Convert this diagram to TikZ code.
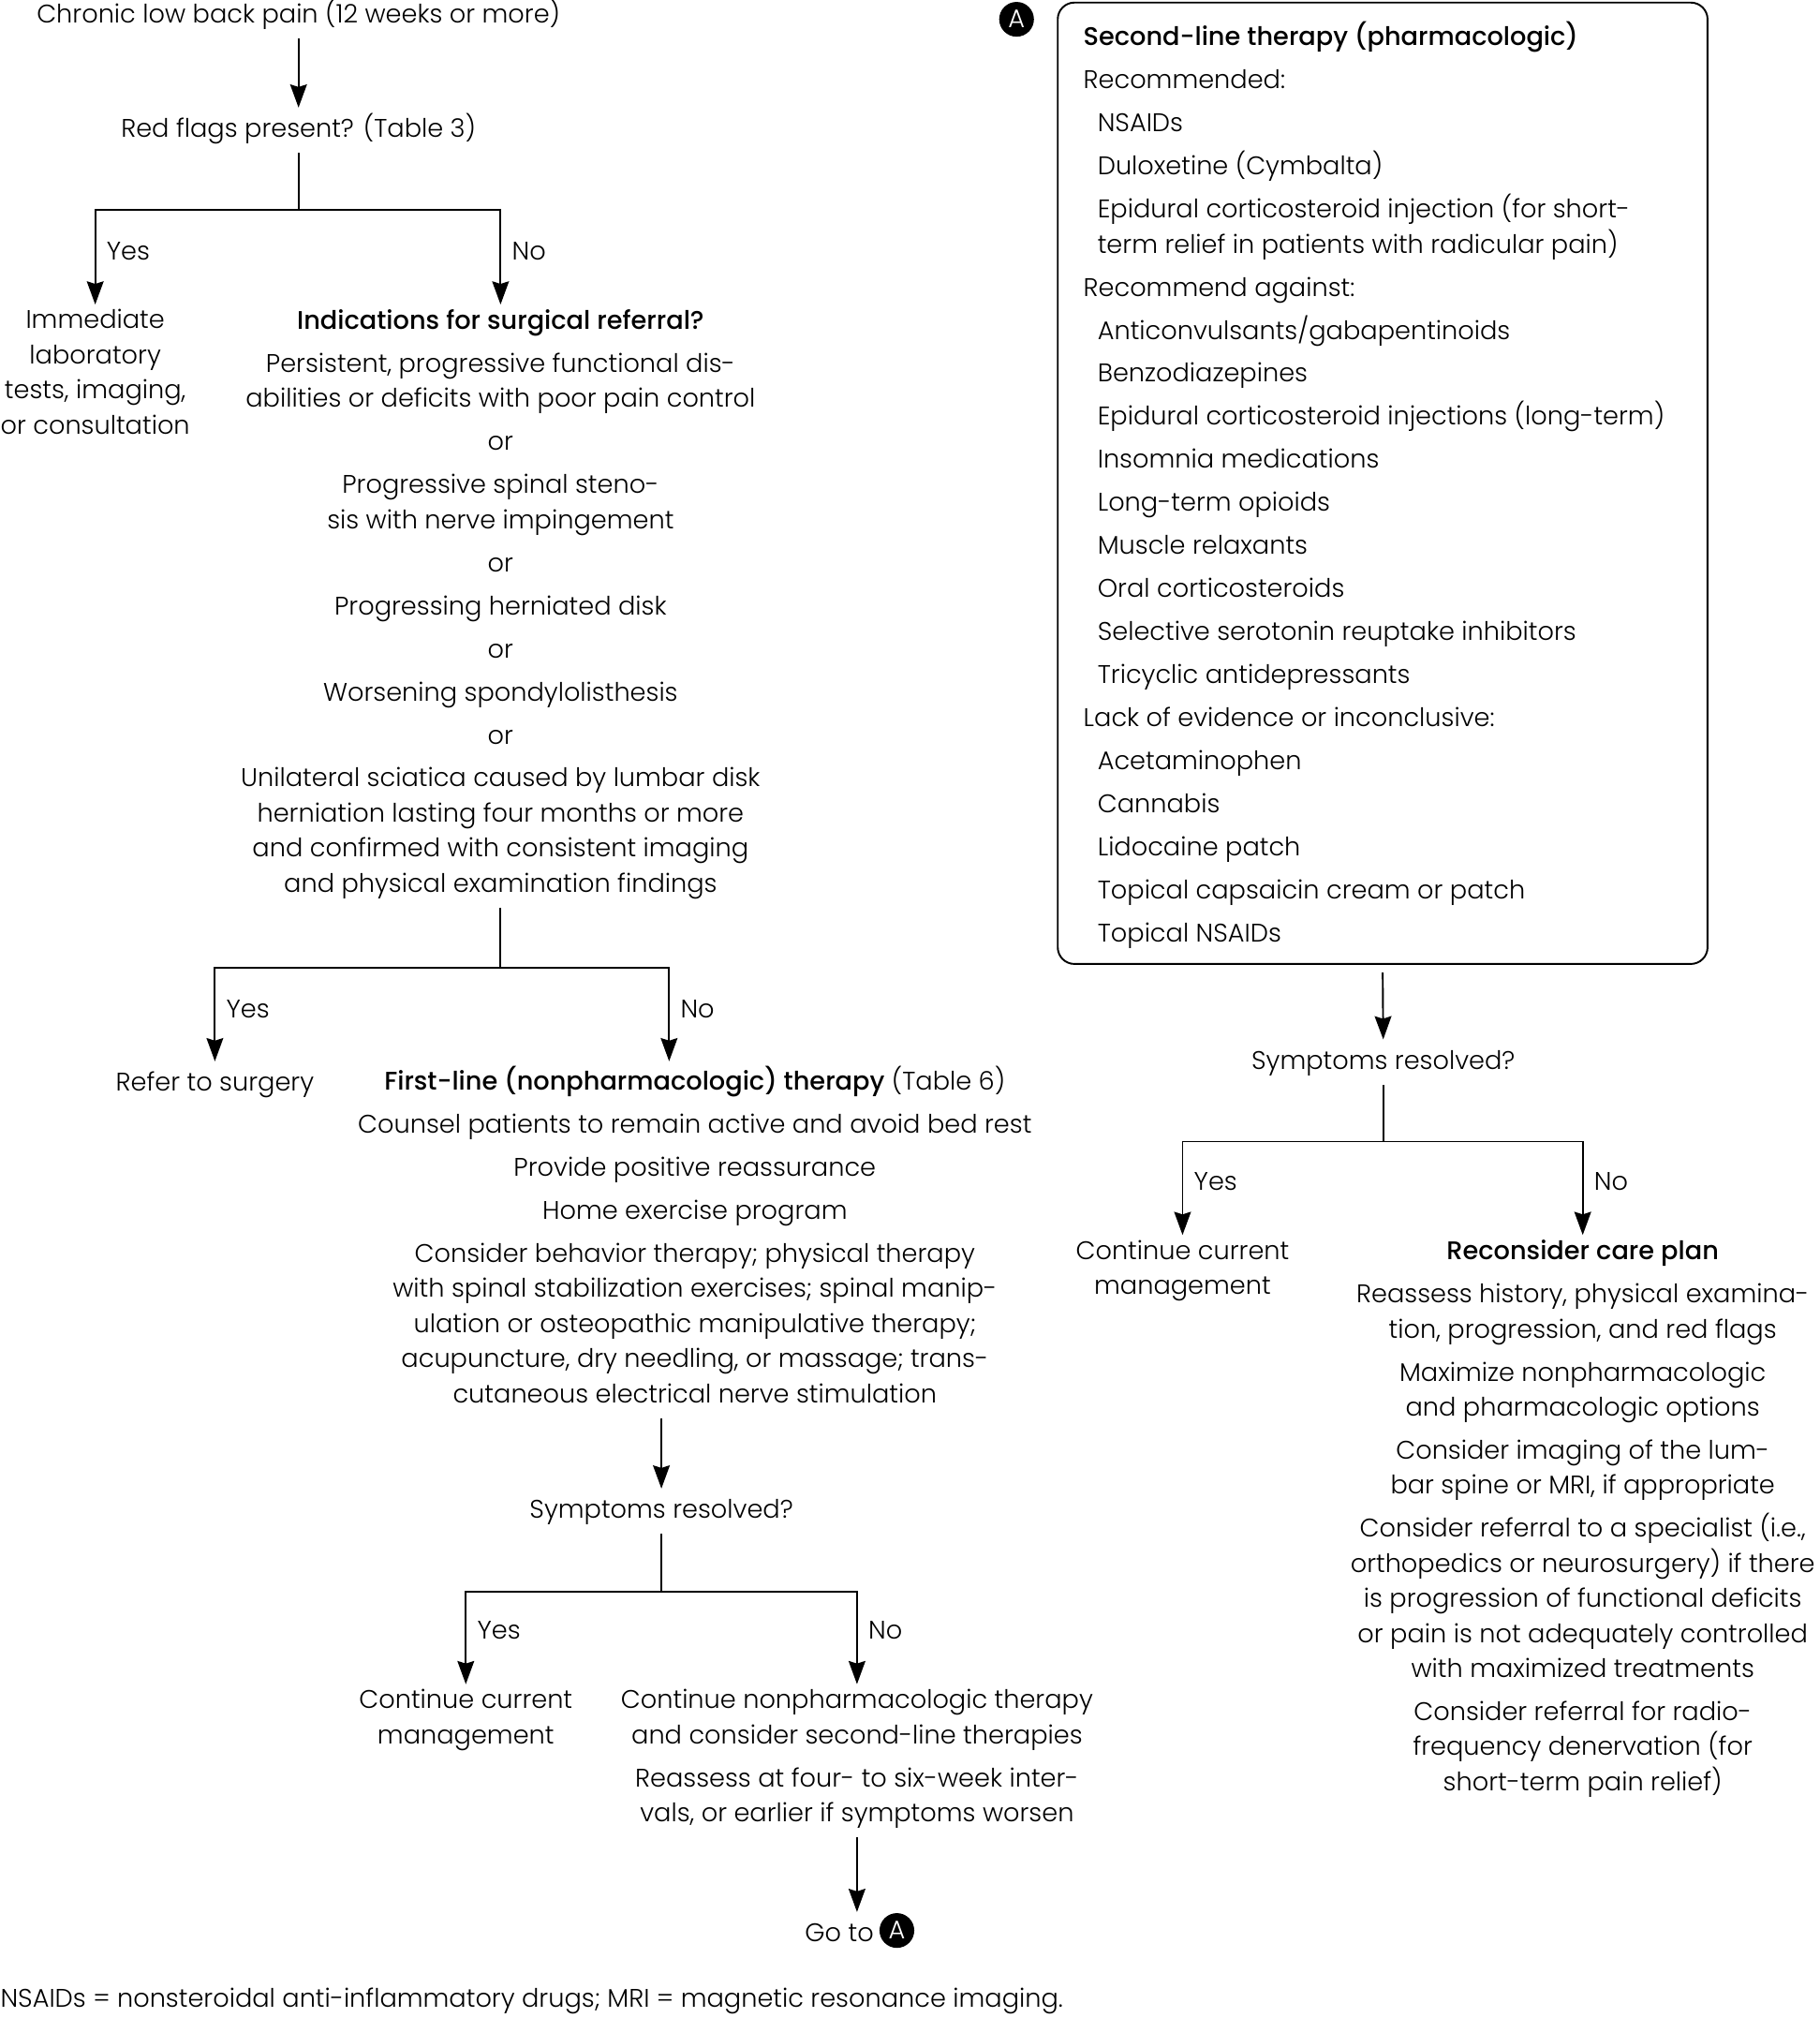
\documentclass[tikz,border=0pt]{standalone}
\usepackage{fontspec}
\setmainfont{Poppins}[UprightFont={* Light}, BoldFont={* Medium}]
\usetikzlibrary{arrows.meta}
\newcommand\fs{\fontsize{9.9pt}{13.625pt}\selectfont}
\begin{document}
\begin{tikzpicture}[x=0.5pt,y=-0.5pt,
  txt/.style={inner sep=0pt, outer sep=0pt, align=center, anchor=north, yshift=5.2pt, font=\fs,
    execute at begin node=\strut, execute at end node=\strut},
  ltxt/.style={txt, align=left, anchor=north west},
  lab/.style={inner sep=0pt, anchor=west, font=\fs},
  ln/.style={line width=0.7pt},
  arr/.style={ln, -{Stealth[length=9pt,width=6.5pt,inset=1pt]}, shorten >=2pt},
  circA/.style={circle, fill=black, text=white, inner sep=0pt, minimum size=13.5pt, font=\fs}
]
\useasboundingbox (0,0) rectangle (1414,1568);

% ---------- left column ----------
\node[txt] (chronic) at (232,9) {Chronic low back pain (12 weeks or more)};
\node[txt] (red) at (232,98) {Red flags present? (Table 3)};
\node[txt] (imm) at (74,251) {Immediate\\laboratory\\tests, imaging,\\or consultation};
\node[txt] (ind) at (389,251) {\textbf{Indications for surgical referral?}\\[3.1pt]
  Persistent, progressive functional dis-\\abilities or deficits with poor pain control\\[3.1pt]
  or\\[3.1pt]
  Progressive spinal steno-\\sis with nerve impingement\\[3.1pt]
  or\\[3.1pt]
  Progressing herniated disk\\[3.1pt]
  or\\[3.1pt]
  Worsening spondylolisthesis\\[3.1pt]
  or\\[3.1pt]
  Unilateral sciatica caused by lumbar disk\\herniation lasting four months or more\\and confirmed with consistent imaging\\and physical examination findings};
\node[txt] (refer) at (167,839) {Refer to surgery};
\node[txt] (first) at (540,839) {\textbf{First-line (nonpharmacologic) therapy} (Table 6)\\[3.1pt]
  Counsel patients to remain active and avoid bed rest\\[3.1pt]
  Provide positive reassurance\\[3.1pt]
  Home exercise program\\[3.1pt]
  Consider behavior therapy; physical therapy\\with spinal stabilization exercises; spinal manip-\\ulation or osteopathic manipulative therapy;\\acupuncture, dry needling, or massage; trans-\\cutaneous electrical nerve stimulation};
\node[txt] (sym1) at (514,1171) {Symptoms resolved?};
\node[txt] (cont1) at (362,1323) {Continue current\\management};
\node[txt] (cont2) at (666,1323) {Continue nonpharmacologic therapy\\and consider second-line therapies\\[3.1pt]
  Reassess at four- to six-week inter-\\vals, or earlier if symptoms worsen};
\node[circA] (gA) at (697,1500) {A};
\node[txt, anchor=north east] (goto) at (679,1500) {Go to};
\node[lab] (foot) at (0,1555) {NSAIDs = nonsteroidal anti-inflammatory drugs; MRI = magnetic resonance imaging.};

\coordinate (x520) at (520,0);
\coordinate (x514) at (514,0);
\coordinate (j1) at (232,163);
\coordinate (j2) at (389,752);
\coordinate (j3) at (514,1237);

\draw[arr, shorten <=2pt] (chronic.south) -- (red.north);
\draw[ln, shorten <=2pt] (red.south) -- (j1);
\draw[arr] (j1) -| (imm.north);
\draw[arr] (j1) -| (ind.north);
\node[lab] (y1) at (82.5,195) {Yes};
\node[lab] (n1) at (397.5,195) {No};

\draw[ln, shorten <=2pt] (ind.south) -- (j2);
\draw[arr] (j2) -| (refer.north);
\draw[arr] (j2) -| (x520 |- first.north);
\node[lab] (y2) at (175.5,784) {Yes};
\node[lab] (n2) at (528.5,784) {No};

\draw[arr, shorten <=2pt] (x514 |- first.south) -- (sym1.north);
\draw[ln, shorten <=2pt] (sym1.south) -- (j3);
\draw[arr] (j3) -| (cont1.north);
\draw[arr] (j3) -| (cont2.north);
\node[lab] (y3) at (370.5,1267) {Yes};
\node[lab] (n3) at (674.5,1267) {No};
\draw[arr, shorten <=2pt] (cont2.south) -- (cont2.south |- goto.north);

% ---------- right column ----------
\node[circA] (A1) at (790,15) {A};
\node[draw, ln, rounded corners=6.5pt, minimum width=252.5pt, minimum height=373.5pt, inner sep=0pt] (box) at (1074.5,375.5) {};
\node[ltxt] (boxtxt) at (842,27.5) {\textbf{Second-line therapy (pharmacologic)}\\[3.1pt]
  Recommended:\\[3.1pt]
  \hspace*{5.5pt}NSAIDs\\[3.1pt]
  \hspace*{5.5pt}Duloxetine (Cymbalta)\\[3.1pt]
  \hspace*{5.5pt}Epidural corticosteroid injection (for short-\\
  \hspace*{5.5pt}term relief in patients with radicular pain)\\[3.1pt]
  Recommend against:\\[3.1pt]
  \hspace*{5.5pt}Anticonvulsants/gabapentinoids\\[3.1pt]
  \hspace*{5.5pt}Benzodiazepines\\[3.1pt]
  \hspace*{5.5pt}Epidural corticosteroid injections (long-term)\\[3.1pt]
  \hspace*{5.5pt}Insomnia medications\\[3.1pt]
  \hspace*{5.5pt}Long-term opioids\\[3.1pt]
  \hspace*{5.5pt}Muscle relaxants\\[3.1pt]
  \hspace*{5.5pt}Oral corticosteroids\\[3.1pt]
  \hspace*{5.5pt}Selective serotonin reuptake inhibitors\\[3.1pt]
  \hspace*{5.5pt}Tricyclic antidepressants\\[3.1pt]
  Lack of evidence or inconclusive:\\[3.1pt]
  \hspace*{5.5pt}Acetaminophen\\[3.1pt]
  \hspace*{5.5pt}Cannabis\\[3.1pt]
  \hspace*{5.5pt}Lidocaine patch\\[3.1pt]
  \hspace*{5.5pt}Topical capsaicin cream or patch\\[3.1pt]
  \hspace*{5.5pt}Topical NSAIDs};

\node[txt] (sym2) at (1075,822) {Symptoms resolved?};
\node[txt] (cont3) at (919,974) {Continue current\\management};
\node[txt] (recon) at (1230,974) {\textbf{Reconsider care plan}\\[3.1pt]
  Reassess history, physical examina-\\tion, progression, and red flags\\[3.1pt]
  Maximize nonpharmacologic\\and pharmacologic options\\[3.1pt]
  Consider imaging of the lum-\\bar spine or MRI, if appropriate\\[3.1pt]
  Consider referral to a specialist (i.e.,\\orthopedics or neurosurgery) if there\\is progression of functional deficits\\or pain is not adequately controlled\\with maximized treatments\\[3.1pt]
  Consider referral for radio-\\frequency denervation (for\\short-term pain relief)};

\coordinate (j4) at (1075,887);
\draw[arr, shorten <=3pt] (box.south) -- (sym2.north);
\draw[ln, shorten <=2pt] (sym2.south) -- (j4);
\draw[arr] (j4) -| (cont3.north);
\draw[arr] (j4) -| (recon.north);
\node[lab] (y4) at (927.5,918) {Yes};
\node[lab] (n4) at (1238.5,918) {No};
\end{tikzpicture}
\end{document}
